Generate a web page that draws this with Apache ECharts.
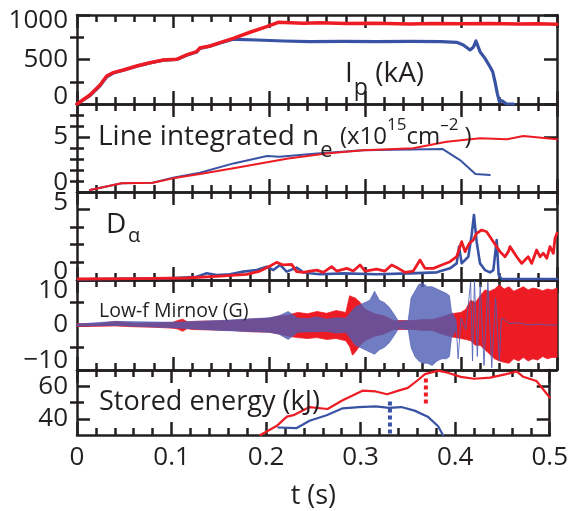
<!DOCTYPE html>
<html><head><meta charset="utf-8">
<script src="https://cdn.jsdelivr.net/npm/echarts@6/dist/echarts.min.js"></script>
<style>html,body{margin:0;padding:0;background:#fff}#c{width:571px;height:511px}</style>
</head><body><div id="c"></div>
<script>
// ---------------- data ----------------
const tTicks = [0, 0.1, 0.2, 0.3, 0.4, 0.5];

// Plasma current Ip (kA)
const ipRed = [[0,0],[0.0135,101],[0.024,213],[0.031,315],[0.0378,352],[0.0483,382],[0.0622,427],[0.076,464],[0.0899,494],[0.1038,502],[0.1142,551],[0.1247,588],[0.128,630],[0.1385,652],[0.149,689],[0.1628,738],[0.1802,806],[0.1976,869],[0.2097,918],[0.2358,907],[0.253,914],[0.28,905],[0.31,908],[0.347,899],[0.37,904],[0.4,902],[0.43,905],[0.46,900],[0.48,903],[0.5,897]];
const ipBlue = [[0,0],[0.0135,95],[0.024,205],[0.031,305],[0.0378,348],[0.0483,380],[0.0622,425],[0.076,462],[0.0899,492],[0.1038,500],[0.1142,548],[0.1247,585],[0.128,625],[0.1385,650],[0.149,686],[0.1628,727],[0.1663,727],[0.187,719],[0.215,708],[0.2427,700],[0.2774,704],[0.312,700],[0.347,704],[0.38,700],[0.3955,693],[0.4024,663],[0.4094,607],[0.4128,637],[0.4156,708],[0.4198,588],[0.425,513],[0.4302,419],[0.433,363],[0.4354,251],[0.4378,120],[0.44,26],[0.4424,37],[0.4476,0],[0.455,0]];

// Line integrated ne (1e15 cm^-2)
const neRed = [[0.0135,0.18],[0.0465,0.79],[0.079,0.85],[0.1,1.24],[0.128,1.64],[0.163,2.15],[0.198,2.7],[0.22,3.05],[0.26,3.5],[0.298,3.8],[0.35,3.97],[0.385,4.57],[0.42,4.88],[0.448,4.8],[0.465,5.1],[0.5,4.8]];
const neBlue = [[0.0135,0.18],[0.0465,0.79],[0.079,0.85],[0.1,1.3],[0.128,1.75],[0.163,2.6],[0.198,3.27],[0.211,3.2],[0.25,3.5],[0.298,3.8],[0.381,3.9],[0.399,2.9],[0.415,1.64],[0.43,1.55]];

// D-alpha (a.u.)
const daRed = [[0.001,0.07],[0.062,0.09],[0.114,0.14],[0.149,0.28],[0.1767,0.4],[0.1906,0.63],[0.2011,0.98],[0.208,1.24],[0.2149,1.06],[0.2236,1.1],[0.2288,0.59],[0.2358,0.54],[0.2427,0.63],[0.2497,0.7],[0.2566,0.54],[0.2653,0.94],[0.2705,0.63],[0.281,0.82],[0.2878,0.63],[0.2948,1.06],[0.3,0.63],[0.3122,0.77],[0.3208,0.63],[0.3278,1.06],[0.3347,0.82],[0.3417,0.54],[0.3503,0.63],[0.3573,1.41],[0.3625,0.82],[0.3712,0.82],[0.3799,1.06],[0.3885,1.29],[0.3955,1.64],[0.4007,2.7],[0.4042,2.0],[0.4087,2.58],[0.4128,2.82],[0.4163,3.29],[0.4215,3.52],[0.4267,3.4],[0.4337,2.7],[0.4406,2.0],[0.4458,1.64],[0.4493,2.0],[0.451,2.35],[0.4545,2.0],[0.458,1.64],[0.4632,1.17],[0.4667,1.41],[0.47,1.64],[0.4736,1.17],[0.4788,2.11],[0.4823,1.64],[0.4858,1.88],[0.4893,1.53],[0.4927,2.35],[0.4962,1.88],[0.4979,2.93],[0.5,3.29]];
const daBlue = [[0.001,0.05],[0.0969,0.12],[0.1247,0.23],[0.1351,0.47],[0.1455,0.35],[0.1594,0.4],[0.1733,0.59],[0.1872,0.7],[0.1976,0.94],[0.2045,0.7],[0.2115,1.06],[0.2184,0.59],[0.2288,0.87],[0.2358,0.54],[0.2427,0.47],[0.253,0.4],[0.2775,0.47],[0.3122,0.4],[0.3469,0.47],[0.3747,0.54],[0.3885,0.82],[0.3955,1.17],[0.398,2.35],[0.4007,1.17],[0.4076,1.64],[0.4111,3.17],[0.4135,4.58],[0.4163,2.7],[0.4198,1.17],[0.425,0.7],[0.4302,0.54],[0.4337,0.7],[0.4372,2.82],[0.4392,0.35],[0.4424,0.07],[0.5,0.07]];

// Low-f Mirnov (G): envelopes (upper / lower) of the fast oscillation
const mirRedT  = [0,0.02,0.04,0.06,0.08,0.1,0.105,0.11,0.115,0.12,0.14,0.16,0.18,0.2,0.21,0.22,0.23,0.24,0.25,0.26,0.27,0.28,0.284,0.287,0.29,0.295,0.3,0.31,0.32,0.33,0.34,0.35,0.36,0.37,0.38,0.39,0.4,0.405,0.41,0.415,0.42,0.425,0.43,0.435,0.44,0.445,0.45,0.455,0.46,0.465,0.47,0.475,0.48,0.485,0.49,0.495,0.5];
const mirRedHi = [0.3,0.3,0.8,0.4,0.5,0.6,1.0,1.3,0.7,0.8,0.9,1.0,1.3,1.5,2.0,2.2,2.8,2.5,3.0,2.6,3.2,2.8,6.5,6.2,6.0,5.0,3.5,2.5,2.0,1.0,1.0,1.0,1.2,1.2,1.8,2.5,2.8,3.5,5.5,5.0,6.5,7.8,7.5,8.0,8.9,8.0,8.5,7.5,8.0,8.5,7.8,8.2,8.0,7.6,8.0,7.8,8.2];
const mirRedLo = [-0.3,-0.3,-0.2,-0.4,-0.5,-0.7,-0.9,-1.4,-0.8,-1.0,-1.1,-1.2,-1.5,-1.6,-2.0,-2.5,-2.8,-3.0,-2.8,-3.2,-3.0,-3.5,-4.8,-6.7,-6.0,-4.5,-3.5,-2.5,-2.0,-1.0,-1.0,-1.0,-1.2,-1.2,-2.0,-2.6,-3.0,-3.2,-3.5,-4.5,-4.5,-5.5,-6.5,-7.5,-8.0,-8.3,-8.5,-7.5,-8.0,-7.2,-8.0,-7.5,-7.8,-7.0,-7.5,-7.2,-7.2];
const mirBlueT  = [0,0.04,0.1,0.15,0.2,0.21,0.22,0.23,0.24,0.25,0.26,0.27,0.28,0.29,0.295,0.3,0.305,0.31,0.315,0.32,0.325,0.33,0.335,0.345,0.348,0.352,0.356,0.36,0.365,0.37,0.375,0.38,0.385,0.388,0.39,0.395];
const mirBlueHi = [0.2,0.8,0.6,1.0,1.6,2.0,3.0,1.5,1.4,1.8,1.3,1.6,1.5,4.0,4.5,5.0,5.5,7.5,5.5,5.0,4.0,2.5,0.8,1.0,6.0,7.5,9.0,9.3,8.5,8.5,8.0,7.5,7.0,6.5,3.0,1.0];
const mirBlueLo = [-0.2,-0.1,-0.6,-1.2,-1.6,-2.0,-3.2,-1.6,-1.5,-1.5,-1.4,-1.8,-1.6,-4.5,-5.0,-5.5,-6.0,-6.5,-5.5,-5.0,-4.0,-2.5,-0.8,-1.0,-5.0,-7.0,-8.0,-8.5,-8.5,-9.0,-8.0,-7.5,-7.5,-7.0,-3.0,-1.0];
const mirBlueLate = [[0.395,0],[0.397,-7.5],[0.4,1.5],[0.405,-1],[0.41,9.5],[0.412,-8],[0.414,9.8],[0.417,-7],[0.42,9],[0.424,-9],[0.428,9.5],[0.432,-9.5],[0.436,6],[0.44,-8],[0.442,1.5],[0.445,1.2],[0.45,0.3],[0.46,0.5],[0.47,0],[0.48,0.2],[0.49,0],[0.5,0]];

// Stored energy (kJ)
const weRed = [[0.194,30],[0.211,35.5],[0.222,41.3],[0.229,42.2],[0.246,47.2],[0.265,46],[0.281,51.4],[0.302,57.3],[0.316,56.8],[0.328,55.1],[0.34,57.3],[0.35,59],[0.361,64],[0.368,67.5],[0.382,69.6],[0.392,68.3],[0.406,65.8],[0.42,64.6],[0.437,65.3],[0.454,67.5],[0.465,69.1],[0.472,65.8],[0.486,63.2],[0.5,53.1]];
const weBlue = [[0.213,34.6],[0.232,34.2],[0.246,38.8],[0.264,42.2],[0.281,46.4],[0.298,47.2],[0.316,47.6],[0.33,46.7],[0.343,47.2],[0.357,45],[0.371,41.3],[0.382,35.4],[0.387,30]];
const weBlueMark = [[0.331,31],[0.331,51.4]];
const weRedMark = [[0.369,49.4],[0.369,66]];

// y-axis scales / ticks / labels per panel
const yMin = [0, 0, 0, -10, 30];
const yMax = [1000, 8, 6.2, 10, 70];
const yLabels = [[0,500,1000],[0,5],[0,5],[-10,0,10],[40,60]];
const yMajor  = [[0,500,1000],[0,5],[0,5],[-10,0,10],[40,60]];
const yMinor  = [[250,750],[1,2,3,4,6,7],[1.25,2.5,3.75],[-5,5],[50]];

// ---------------- layout / style ----------------
const FONT = "'Open Sans', 'Noto Sans', sans-serif";
const INK = '#231f20', RED = '#ed1c24', BLUE = '#3953a4', MBLUE = '#4d5db3';
const tops = [15, 104, 192, 280, 370];
const bots = [104, 192, 280, 370, 449];
const labelShift = [{0:-7, 1000:6}, {0:-9}, {0:-8, 5:-6}, {'-10':-9, 10:11}, {}];
const AXW = 2.5, TICKF = 26;

function shiftName(s){ return s > 0 ? 'd' + s : 'u' + (-s); }
function richFor(map){
  const r = {};
  Object.values(map).forEach(s => {
    r[shiftName(s)] = {fontSize: TICKF, fontFamily: FONT, color: INK,
      padding: s > 0 ? [2*s,0,0,0] : [0,0,-2*s,0]};
  });
  return r;
}

const grid = [], xAxis = [], yAxis = [], series = [];
const lineStyle = {color: INK, width: AXW};
for (let i = 0; i < 5; i++) {
  grid.push({left: 77, right: 14, top: tops[i], height: bots[i] - tops[i]});
  const xc = {gridIndex: i, type: 'value', min: 0, max: 0.5, interval: 0.1,
    axisLine: {show: true, onZero: false, lineStyle},
    axisTick: {show: true, inside: true, length: 13, lineStyle},
    minorTick: {show: true, splitNumber: 5, length: 7, lineStyle},
    splitLine: {show: false}, minorSplitLine: {show: false}};
  xAxis.push(Object.assign({}, xc, {position: 'bottom',
    axisLabel: {show: i === 4, fontSize: TICKF, fontFamily: FONT, color: INK, margin: 10,
      customValues: tTicks, formatter: v => String(+v.toFixed(1))},
    name: i === 4 ? 't (s)' : '', nameLocation: 'middle', nameGap: 48,
    nameTextStyle: {fontSize: 27, fontFamily: FONT, color: INK}}));
  xAxis.push(Object.assign({}, xc, {position: 'top', axisLabel: {show: false}}));

  const sh = labelShift[i];
  const yc = {gridIndex: i, type: 'value', min: yMin[i], max: yMax[i], splitLine: {show: false}};
  yAxis.push(Object.assign({}, yc, {position: 'left',
    axisLine: {show: true, onZero: false, lineStyle},
    axisTick: {show: true, inside: true, length: 13, lineStyle, customValues: yMajor[i]},
    axisLabel: {show: true, customValues: yLabels[i], fontSize: TICKF, fontFamily: FONT, color: INK, margin: 9,
      rich: richFor(sh),
      formatter: v => { const txt = v < 0 ? '\u2212' + (-v) : String(v); const s = sh[v];
        return s ? '{' + shiftName(s) + '|' + txt + '}' : txt; }}}));
  yAxis.push(Object.assign({}, yc, {position: 'right',
    axisLine: {show: true, onZero: false, lineStyle},
    axisTick: {show: true, inside: true, length: 13, lineStyle, customValues: yMajor[i]},
    axisLabel: {show: false}}));
  yAxis.push(Object.assign({}, yc, {position: 'left', axisLine: {show: false},
    axisTick: {show: true, inside: true, length: 7, lineStyle, customValues: yMinor[i]},
    axisLabel: {show: false}}));
  yAxis.push(Object.assign({}, yc, {position: 'right', axisLine: {show: false},
    axisTick: {show: true, inside: true, length: 7, lineStyle, customValues: yMinor[i]},
    axisLabel: {show: false}}));
}

function line(gi, data, color, width, extra) {
  return Object.assign({type: 'line', xAxisIndex: gi*2, yAxisIndex: gi*4, data,
    showSymbol: false, symbol: 'none', silent: true, z: 3,
    lineStyle: {color, width, cap: 'round', join: 'round'}}, extra || {});
}
series.push(line(0, ipBlue, BLUE, 3.2));
series.push(line(0, ipRed, RED, 3.5));
series.push(line(1, neBlue, BLUE, 2));
series.push(line(1, neRed, RED, 2));
series.push(line(2, daBlue, BLUE, 2.6));
series.push(line(2, daRed, RED, 2.8));

// Mirnov envelopes drawn as filled polygons through the axis scales
function band(tArr, lo, hi, color, opacity) {
  return {type: 'custom', xAxisIndex: 6, yAxisIndex: 12, data: [[0.25, 0]], silent: true, z: 3,
    renderItem: (params, api) => {
      const pts = [];
      for (let k = 0; k < tArr.length; k++) pts.push(api.coord([tArr[k], hi[k]]));
      for (let k = tArr.length - 1; k >= 0; k--) pts.push(api.coord([tArr[k], lo[k]]));
      return {type: 'polygon', shape: {points: pts},
        style: {fill: color, stroke: color, lineWidth: 0.8, opacity}};
    }};
}
series.push(band(mirRedT, mirRedLo, mirRedHi, RED, 1));
series.push(band(mirBlueT, mirBlueLo, mirBlueHi, MBLUE, 0.8));
series.push(line(3, mirBlueLate, MBLUE, 1, {lineStyle: {color: MBLUE, width: 1, opacity: 0.85}}));

series.push(line(4, weBlue, BLUE, 2.2));
series.push(line(4, weRed, RED, 2.2));
series.push(line(4, weBlueMark, BLUE, 4, {lineStyle: {color: BLUE, width: 4, type: [4, 3], cap: 'butt'}}));
series.push(line(4, weRedMark, RED, 4, {lineStyle: {color: RED, width: 4, type: [4, 3], cap: 'butt'}}));

const tStyle = (size, rich) => ({fontSize: size, fontFamily: FONT, color: INK, fontWeight: 'normal', rich: rich || {}});
const title = [
  {text: 'I{sub|p} (kA)', left: 345, top: 49, padding: 0,
    textStyle: tStyle(28, {sub: {fontSize: 23, fontFamily: FONT, color: INK, padding: [28,0,0,1]}})},
  {text: 'Line integrated n{sub|e} {p|(x10}{sup|15}{p|cm}{sup|\u20132}{p| )}', left: 98, top: 112, padding: 0,
    textStyle: tStyle(28, {sub: {fontSize: 22, fontFamily: FONT, color: INK, padding: [28,0,0,1]},
                           p: {fontSize: 24, fontFamily: FONT, color: INK},
                           sup: {fontSize: 17, fontFamily: FONT, color: INK, padding: [0,0,23,0]}})},
  {text: 'D', left: 106, top: 211, padding: 0, textStyle: tStyle(28)},
  {text: '\u03b1', left: 128, top: 226, padding: 0, textStyle: tStyle(20)},
  {text: 'Low-f Mirnov (G)', left: 99, top: 301, padding: 0, textStyle: tStyle(19.5)},
  {text: 'Stored energy (kJ)', left: 99, top: 389, padding: 0, textStyle: tStyle(27)}
];

const chart = echarts.init(document.getElementById('c'), null, {renderer: 'canvas'});
chart.setOption({animation: false, backgroundColor: '#fff', title, grid, xAxis, yAxis, series});
</script></body></html>
